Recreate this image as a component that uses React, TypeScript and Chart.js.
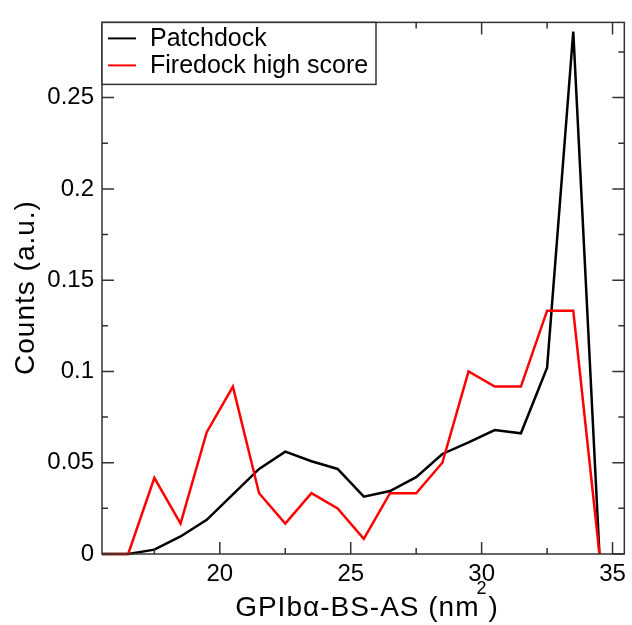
import React, { useEffect, useRef } from "react";
import { Chart, registerables } from "chart.js";

Chart.register(...registerables);

const xValues = [15.5, 16.5, 17.5, 18.5, 19.5, 20.5, 21.5, 22.5, 23.5, 24.5, 25.5, 26.5, 27.5, 28.5, 29.5, 30.5, 31.5, 32.5, 33.5, 34.5];
const patchdock = [0, 0, 0.0024, 0.0096, 0.0187, 0.0327, 0.0466, 0.0561, 0.0508, 0.0466, 0.0314, 0.0345, 0.0421, 0.0548, 0.0611, 0.0679, 0.0661, 0.1021, 0.2862, 0];
const firedock = [0, 0, 0.0417, 0.0167, 0.0667, 0.0917, 0.0333, 0.0167, 0.0333, 0.025, 0.0083, 0.0333, 0.0333, 0.05, 0.1, 0.0917, 0.0917, 0.1333, 0.1333, 0];
const seriesNames = ["Patchdock", "Firedock high score"];
const seriesColors = ["#000000", "#ff0000"];
const xMajorTicks = [20, 25, 30, 35];
const xMinorTicks = [17.5, 22.5, 27.5, 32.5];
const yMajorTicks = [0, 0.05, 0.1, 0.15, 0.2, 0.25];
const yMinorTicks = [0.025, 0.075, 0.125, 0.175, 0.225, 0.275];
const xTitleMain = "GPIbα-BS-AS (nm";
const xTitleSup = "2";
const xTitleEnd = ")";
const yTitle = "Counts (a.u.)";

const FONT = "'Liberation Sans', Arial, Helvetica, sans-serif";

const framePlugin = {
  id: "framePlugin",
  afterDraw(chart: any) {
    const ctx = chart.ctx;
    const { left, right, top, bottom } = chart.chartArea;
    const xs = chart.scales.x;
    const ys = chart.scales.y;
    ctx.save();
    ctx.strokeStyle = "#333";
    ctx.lineWidth = 1.5;
    ctx.strokeRect(left, top, right - left, bottom - top);
    const major = 12;
    const minor = 6;
    ctx.beginPath();
    const xt = (v: number, len: number) => {
      const p = xs.getPixelForValue(v);
      ctx.moveTo(p, bottom);
      ctx.lineTo(p, bottom - len);
      ctx.moveTo(p, top);
      ctx.lineTo(p, top + len);
    };
    const yt = (v: number, len: number) => {
      const p = ys.getPixelForValue(v);
      ctx.moveTo(left, p);
      ctx.lineTo(left + len, p);
      ctx.moveTo(right, p);
      ctx.lineTo(right - len, p);
    };
    xMajorTicks.forEach((v) => xt(v, major));
    xMinorTicks.forEach((v) => xt(v, minor));
    yMajorTicks.forEach((v) => yt(v, major));
    yMinorTicks.forEach((v) => yt(v, minor));
    ctx.stroke();

    // Legend box
    const lx = left;
    const ly = top;
    const lw = 274;
    const lh = 62;
    ctx.fillStyle = "#fff";
    ctx.fillRect(lx, ly, lw, lh);
    ctx.strokeStyle = "#333";
    ctx.lineWidth = 1.5;
    ctx.strokeRect(lx, ly, lw, lh);
    ctx.font = `25px ${FONT}`;
    ctx.textBaseline = "middle";
    ctx.textAlign = "left";
    seriesNames.forEach((name, i) => {
      const yy = ly + 16 + i * 27;
      ctx.strokeStyle = seriesColors[i];
      ctx.lineWidth = 2;
      ctx.beginPath();
      ctx.moveTo(lx + 6, yy);
      ctx.lineTo(lx + 34, yy);
      ctx.stroke();
      ctx.fillStyle = "#000";
      ctx.fillText(name, lx + 48, yy + 1);
    });

    // X title with superscript
    ctx.fillStyle = "#000";
    ctx.textBaseline = "alphabetic";
    ctx.textAlign = "left";
    try { (ctx as any).letterSpacing = "1px"; } catch (e) {}
    ctx.font = `28px ${FONT}`;
    const w1 = ctx.measureText(xTitleMain).width;
    const w3 = ctx.measureText(xTitleEnd).width;
    ctx.font = `18px ${FONT}`;
    const w2 = ctx.measureText(xTitleSup).width;
    const total = w1 + w2 + w3 - 3;
    const cx = 366.5;
    let sx = cx - total / 2;
    const base = 616;
    ctx.font = `28px ${FONT}`;
    ctx.fillText(xTitleMain, sx, base);
    sx += w1 - 3;
    ctx.font = `18px ${FONT}`;
    ctx.fillText(xTitleSup, sx, base - 22);
    sx += w2 + 1;
    ctx.font = `28px ${FONT}`;
    ctx.fillText(xTitleEnd, sx, base);

    // Y title
    ctx.save();
    ctx.translate(34, 287.5);
    ctx.rotate(-Math.PI / 2);
    ctx.textAlign = "center";
    ctx.textBaseline = "alphabetic";
    ctx.font = `28px ${FONT}`;
    ctx.fillText(yTitle, 0, 0);
    ctx.restore();

    ctx.restore();
  },
};

export default function App() {
  const ref = useRef<HTMLCanvasElement | null>(null);
  useEffect(() => {
    if (!ref.current) return;
    const chart = new Chart(ref.current, {
      type: "line",
      data: {
        datasets: [
          {
            label: seriesNames[0],
            data: xValues.map((x, i) => ({ x, y: patchdock[i] })),
            borderColor: seriesColors[0],
            borderWidth: 2.5,
            pointRadius: 0,
            tension: 0,
            borderJoinStyle: "miter",
            clip: false,
            order: 1,
          },
          {
            label: seriesNames[1],
            data: xValues.map((x, i) => ({ x, y: firedock[i] })),
            borderColor: seriesColors[1],
            borderWidth: 2.5,
            pointRadius: 0,
            tension: 0,
            borderJoinStyle: "miter",
            clip: false,
            order: 0,
          },
        ],
      } as any,
      options: {
        animation: false,
        responsive: false,
        events: [],
        layout: { padding: { top: 10, right: 5, left: 0, bottom: 0 } },
        plugins: { legend: { display: false }, tooltip: { enabled: false }, title: { display: false } },
        scales: {
          x: {
            type: "linear",
            min: 15.5,
            max: 35.45,
            grid: { display: false, drawTicks: false },
            border: { display: false },
            afterBuildTicks: (s: any) => {
              s.ticks = xMajorTicks.map((v) => ({ value: v }));
            },
            afterFit: (s: any) => {
              s.height = 71;
            },
            ticks: {
              padding: 6,
              color: "#000",
              font: { family: FONT, size: 24 },
              maxRotation: 0,
              autoSkip: false,
              callback: (v: any) => String(v),
            },
          },
          y: {
            type: "linear",
            min: 0,
            max: 0.2912,
            grid: { display: false, drawTicks: false },
            border: { display: false },
            afterBuildTicks: (s: any) => {
              s.ticks = yMajorTicks.map((v) => ({ value: v }));
            },
            afterFit: (s: any) => {
              s.width = 102;
            },
            ticks: {
              padding: 8,
              color: "#000",
              font: { family: FONT, size: 24 },
              autoSkip: false,
              callback: (v: any) => String(+Number(v).toFixed(3)),
            },
          },
        },
      } as any,
      plugins: [framePlugin],
    });
    return () => chart.destroy();
  }, []);
  return (
    <div style={{ position: "absolute", left: 0, top: 0, width: 632, height: 625, background: "#fff" }}>
      <canvas ref={ref} width={632} height={625} style={{ display: "block" }} />
    </div>
  );
}
